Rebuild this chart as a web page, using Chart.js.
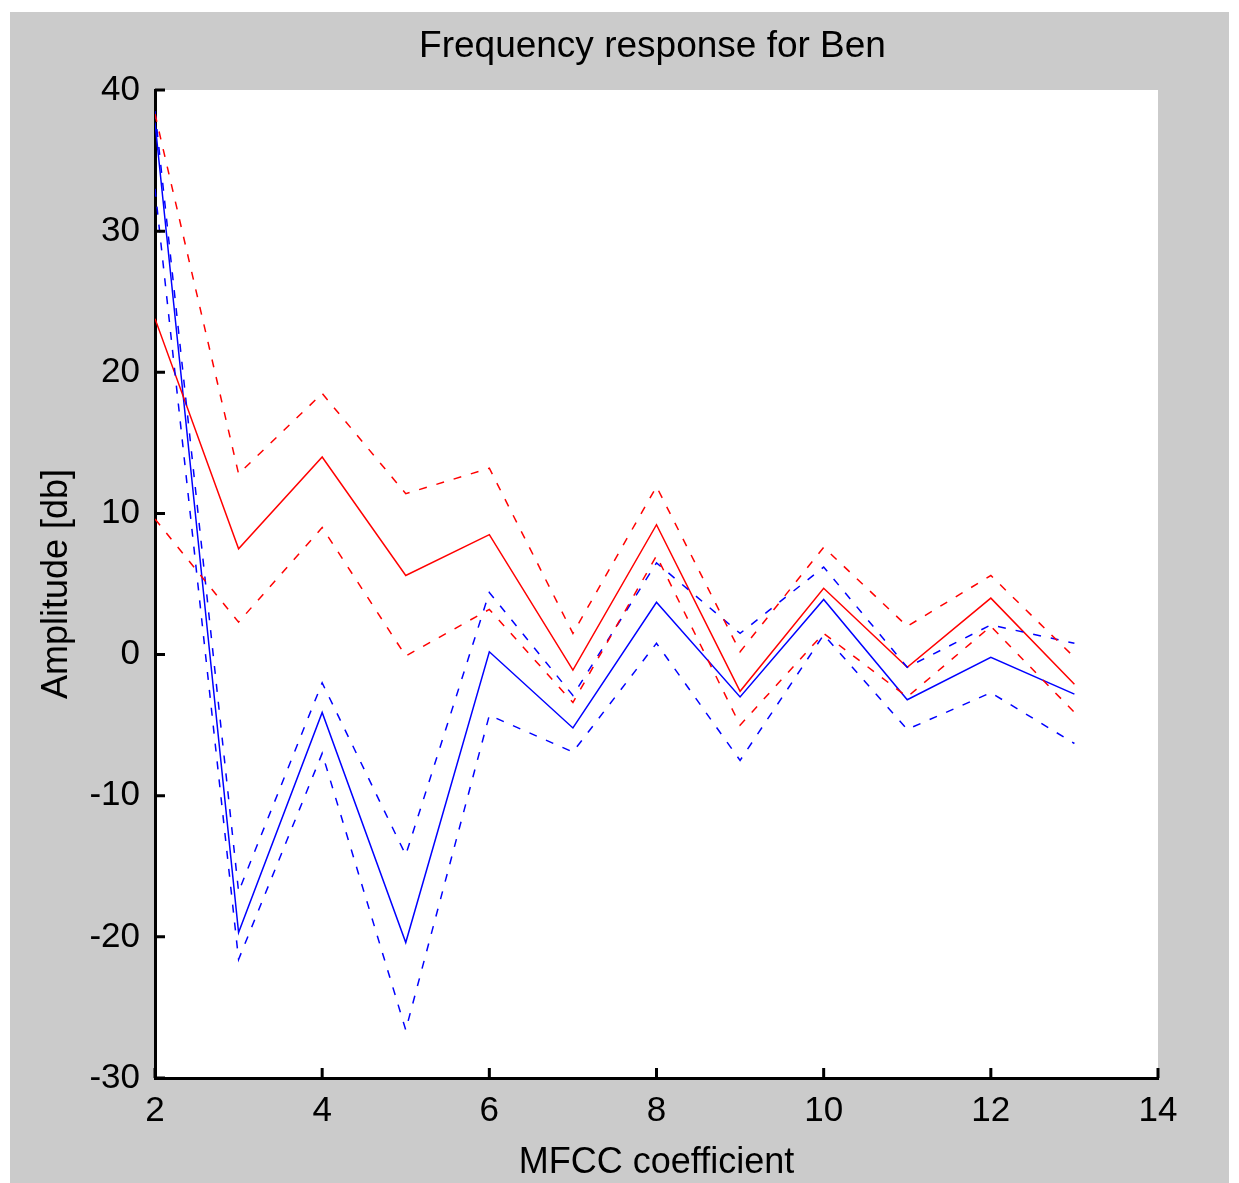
<!DOCTYPE html>
<html>
<head>
<meta charset="utf-8">
<title>Frequency response for Ben</title>
<script src="https://cdn.jsdelivr.net/npm/chart.js@4/dist/chart.umd.min.js"></script>
<style>
  html, body { margin: 0; padding: 0; background: #ffffff; }
  canvas { display: block; }
</style>
</head>
<body>
<canvas id="myChart" width="1239" height="1183"></canvas>
<script>
'use strict';

// MFCC coefficient index on the x axis
let coefficients = [2, 3, 4, 5, 6, 7, 8, 9, 10, 11, 12, 13];

// red: mean and the dashed band around it
let redMean = [23.8, 7.5, 14.0, 5.6, 8.5, -1.1, 9.2, -2.6, 4.7, -0.9, 4.0, -2.1];
let redUpper = [38.3, 12.8, 18.5, 11.4, 13.2, 1.5, 11.9, 0.2, 7.6, 2.0, 5.6, -0.2];
let redLower = [9.6, 2.3, 9.0, -0.1, 3.2, -3.4, 7.0, -5.0, 1.5, -3.0, 2.0, -4.1];

// blue: mean and the dashed band around it
let blueMean = [37.7, -19.7, -4.1, -20.4, 0.2, -5.2, 3.7, -3.0, 3.9, -3.2, -0.2, -2.8];
let blueUpper = [38.5, -16.8, -2.0, -14.2, 4.4, -2.9, 6.5, 1.5, 6.2, -0.9, 2.1, 0.8];
let blueLower = [33.0, -21.6, -7.0, -26.6, -4.3, -6.9, 0.8, -7.5, 1.4, -5.3, -2.7, -6.3];

// axis ranges and tick steps
let xTicks = [2, 4, 6, 8, 10, 12, 14];
let yTicks = [-30, -20, -10, 0, 10, 20, 30, 40];

let chartTitle = 'Frequency response for Ben';
let xTitle = 'MFCC coefficient';
let yTitle = 'Amplitude [db]';

let fontName = '"Liberation Sans", Arial, sans-serif';

function toPoints(values){
  let points = [];
  for (let i=0; i<coefficients.length; i++){
    points.push({x: coefficients[i], y: values[i]});
  }
  return points;
}

function makeLine(values, color, dashed){
  return {
    data: toPoints(values),
    borderColor: color,
    borderWidth: 1.5,
    borderDash: dashed ? [8, 10] : [],
    pointRadius: 0,
    fill: false,
    tension: 0
  };
}

// gray figure background, title and inward tick marks like the original plot
let figurePlugin = {
  id: 'figure',
  beforeDraw(chart){
    let ctx = chart.ctx;
    let area = chart.chartArea;
    ctx.save();
    ctx.fillStyle = '#ffffff';
    ctx.fillRect(0, 0, chart.width, chart.height);
    ctx.fillStyle = '#cbcbcb';
    ctx.fillRect(10, 12, 1219, chart.height - 12);
    ctx.fillStyle = '#ffffff';
    ctx.fillRect(area.left, area.top, area.right - area.left, area.bottom - area.top);
    ctx.restore();
  },
  afterDraw(chart){
    let ctx = chart.ctx;
    let area = chart.chartArea;
    let xScale = chart.scales.x;
    let yScale = chart.scales.y;
    ctx.save();
    ctx.strokeStyle = '#000000';
    ctx.lineWidth = 3;
    ctx.beginPath();
    for (let i=0; i<xTicks.length; i++){
      let px = xScale.getPixelForValue(xTicks[i]);
      ctx.moveTo(px, area.bottom);
      ctx.lineTo(px, area.bottom - 10);
    }
    for (let i=0; i<yTicks.length; i++){
      let py = yScale.getPixelForValue(yTicks[i]);
      ctx.moveTo(area.left, py);
      ctx.lineTo(area.left + 10, py);
    }
    ctx.stroke();

    ctx.fillStyle = '#000000';
    ctx.font = '37px ' + fontName;
    ctx.textAlign = 'center';
    ctx.textBaseline = 'middle';
    ctx.fillText(chartTitle, (area.left + area.right) / 2 - 4, 47);
    ctx.restore();
  }
};

let ctx = document.getElementById('myChart').getContext('2d');
new Chart(ctx, {
  type: 'line',
  data: {
    datasets: [
      makeLine(redUpper, '#ff0000', true),
      makeLine(redLower, '#ff0000', true),
      makeLine(blueUpper, '#0000ff', true),
      makeLine(blueLower, '#0000ff', true),
      makeLine(redMean, '#ff0000', false),
      makeLine(blueMean, '#0000ff', false)
    ]
  },
  options: {
    responsive: false,
    animation: false,
    layout: {
      padding: {left: 10, top: 90, right: 81, bottom: 0}
    },
    plugins: {
      legend: {display: false},
      tooltip: {enabled: false},
      title: {display: false}
    },
    scales: {
      x: {
        type: 'linear',
        min: 2,
        max: 14,
        afterFit(scale){ scale.height = 105; },
        afterBuildTicks(scale){ scale.ticks = xTicks.map(v => ({value: v})); },
        border: {display: true, color: '#000000', width: 3},
        grid: {drawOnChartArea: false, drawTicks: false},
        ticks: {
          color: '#000000',
          padding: 16,
          maxRotation: 0,
          font: {family: fontName, size: 35, lineHeight: 1}
        },
        title: {
          display: true,
          text: xTitle,
          color: '#000000',
          padding: {top: 0, bottom: 2},
          font: {family: fontName, size: 36, lineHeight: 1}
        }
      },
      y: {
        type: 'linear',
        min: -30,
        max: 40,
        afterFit(scale){ scale.width = 145; },
        afterBuildTicks(scale){ scale.ticks = yTicks.map(v => ({value: v})); },
        border: {display: true, color: '#000000', width: 3},
        grid: {drawOnChartArea: false, drawTicks: false},
        ticks: {
          color: '#000000',
          padding: 15,
          font: {family: fontName, size: 35, lineHeight: 1}
        },
        title: {
          display: true,
          text: yTitle,
          color: '#000000',
          padding: {top: 29, bottom: 0},
          font: {family: fontName, size: 36, lineHeight: 1}
        }
      }
    }
  },
  plugins: [figurePlugin]
});
</script>
</body>
</html>
